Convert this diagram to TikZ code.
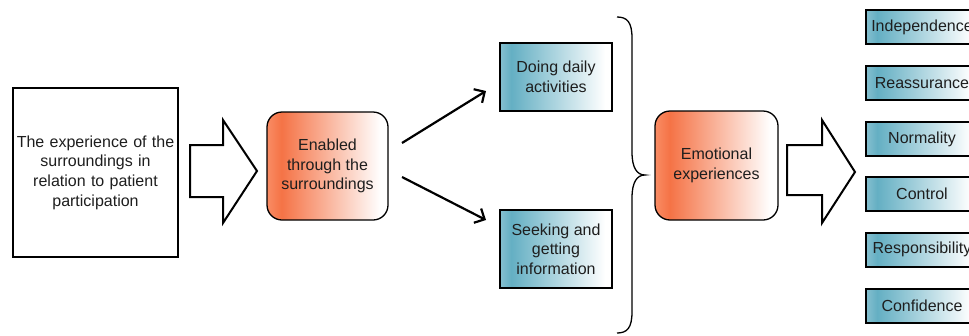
\documentclass[tikz,border=0pt]{standalone}
\usepackage{fontspec}
\setmainfont{Liberation Sans}
\usetikzlibrary{arrows.meta}
\definecolor{orD}{HTML}{F57346}
\definecolor{orL}{HTML}{F98C64}
\definecolor{tlD}{HTML}{64AFC3}
\definecolor{tlL}{HTML}{86C0CF}
\definecolor{txt}{HTML}{1E1E1E}
\pgfdeclarehorizontalshading{orangeshade}{100bp}{color(0bp)=(orL); color(25bp)=(orL); color(31bp)=(orD); color(72bp)=(white); color(100bp)=(white)}
\pgfdeclarehorizontalshading{tealshade}{100bp}{color(0bp)=(tlL); color(25bp)=(tlL); color(30bp)=(tlD); color(72bp)=(white); color(100bp)=(white)}
\tikzset{
  base/.style={inner sep=0pt, align=center, font=\fontsize{16}{19.7}\selectfont, text=txt},
  plainbox/.style={base, draw=black, line width=2pt, fill=white},
  orbox/.style={base, draw=black, line width=1.3pt, rounded corners=15pt, shading=orangeshade},
  tlbox/.style={base, draw=black, line width=2pt, shading=tealshade},
  fat/.style={draw=black, line width=2pt, fill=white, line join=miter},
  conn/.style={draw=black, line width=2.2pt, -{Straight Barb[length=8pt,width=16pt]}},
  bracestyle/.style={draw=black, line width=1.3pt}
}
\begin{document}
\begin{tikzpicture}[x=1pt,y=-1pt]
\useasboundingbox (0,0) rectangle (969,335);
\clip (0,0) rectangle (969,335);
\node[plainbox, minimum width=165pt, minimum height=169pt, text width=162pt] (exp) at (95.5,172.5) {The experience of the\\surroundings in\\relation to patient\\participation};
\draw[fat] (190,145) -- (223,145) -- (223,120) -- (257,171) -- (223,223) -- (223,197) -- (190,197) -- cycle;
\node[orbox, minimum width=121pt, minimum height=108pt] (en) at (327.5,166) {Enabled\\through the\\surroundings};
\node[tlbox, minimum width=112pt, minimum height=68pt] (doing) at (556,77) {Doing daily\\activities};
\node[tlbox, minimum width=112pt, minimum height=78pt] (seek) at (556,249) {Seeking and\\getting\\information};
\coordinate (a1s) at (402,143);
\coordinate (a1e) at (486,91);
\coordinate (a2s) at (402,177);
\coordinate (a2e) at (486,220);
\draw[conn] (a1s) -- (a1e);
\draw[conn] (a2s) -- (a2e);
\draw[bracestyle] (617,17) .. controls (627,17) and (632,22) .. (632,38) -- (632,152) .. controls (632,168) and (637,175) .. (645,175) .. controls (637,175) and (632,182) .. (632,198) -- (632,312) .. controls (632,328) and (627,333) .. (617,333);
\node[orbox, minimum width=123pt, minimum height=109pt] (emo) at (716.5,165.5) {Emotional\\experiences};
\draw[fat] (787,145) -- (822,145) -- (822,120) -- (855,172) -- (822,223) -- (822,195) -- (787,195) -- cycle;
\node[tlbox, minimum width=112pt, minimum height=34pt] (r1) at (922,27) {Independence};
\node[tlbox, minimum width=112pt, minimum height=34pt] (r2) at (922,83) {Reassurance};
\node[tlbox, minimum width=112pt, minimum height=34pt] (r3) at (922,139) {Normality};
\node[tlbox, minimum width=112pt, minimum height=34pt] (r4) at (922,194) {Control};
\node[tlbox, minimum width=112pt, minimum height=34pt] (r5) at (922,249.5) {Responsibility};
\node[tlbox, minimum width=112pt, minimum height=34pt] (r6) at (922,305.5) {Confidence};
\end{tikzpicture}
\end{document}
